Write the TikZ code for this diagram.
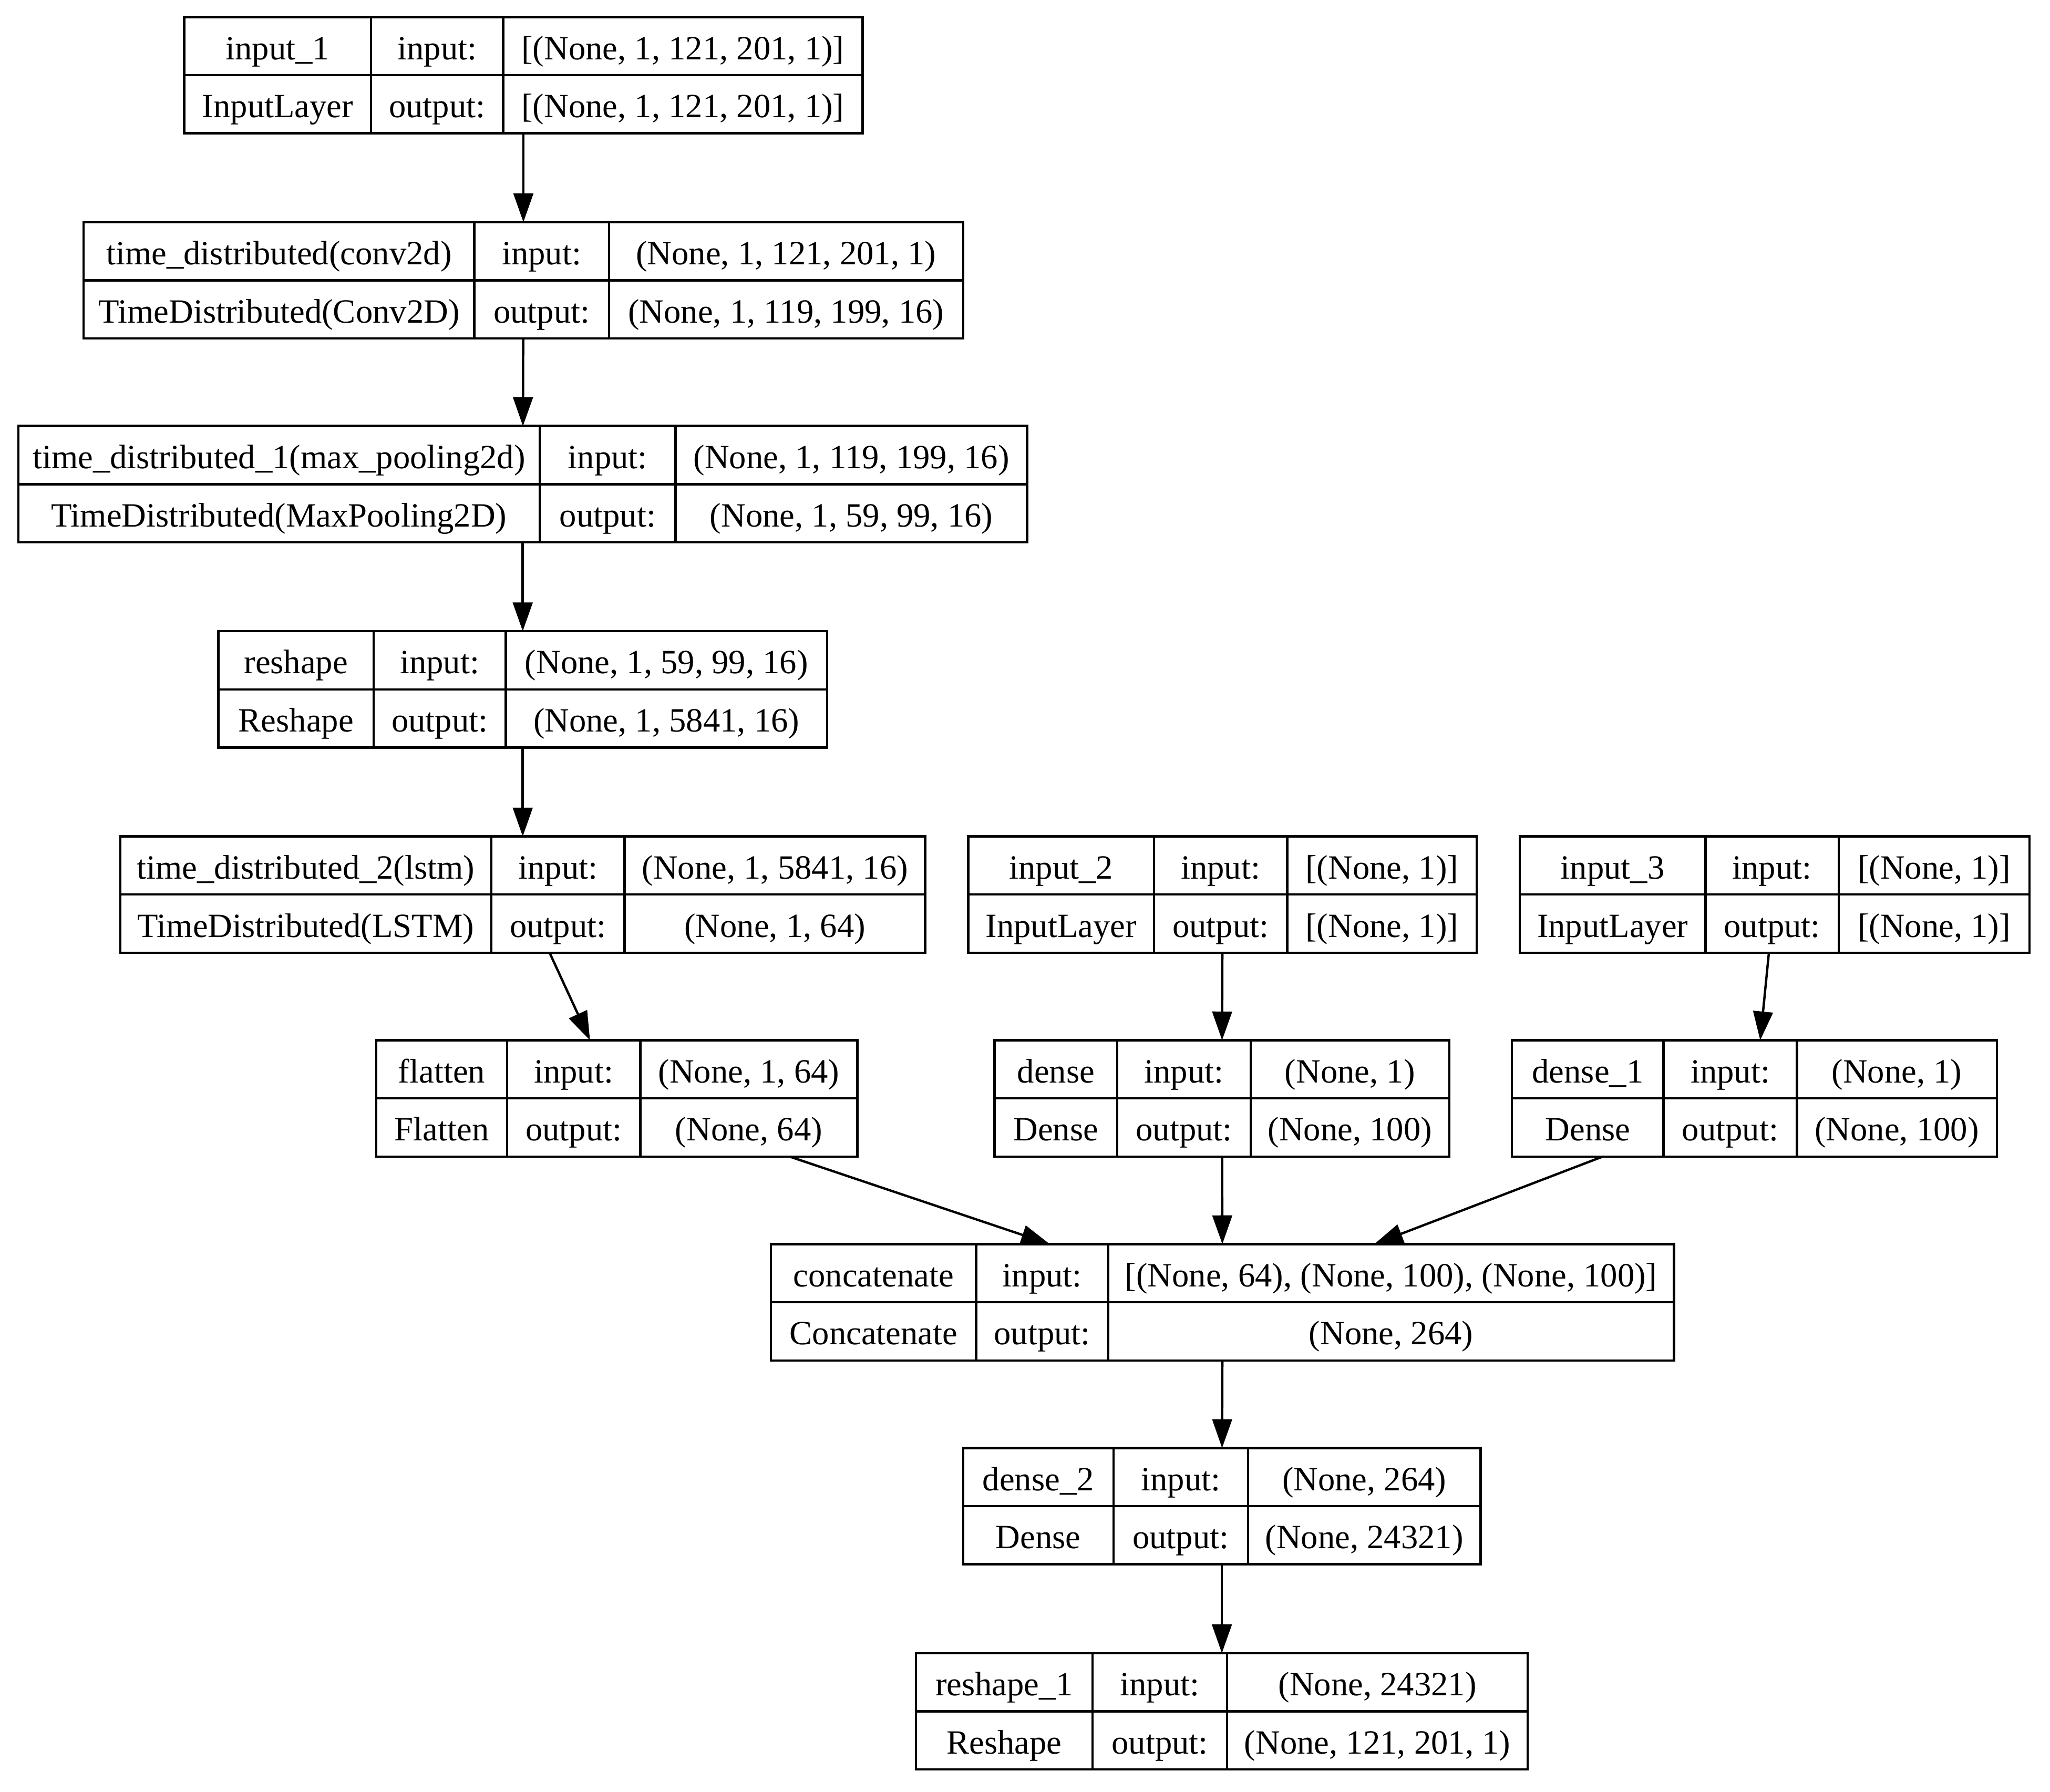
\documentclass[tikz,border=0pt]{standalone}
\usepackage{fontspec}
\setmainfont{Liberation Serif}
\usetikzlibrary{arrows.meta,calc}

\begin{document}
\begin{tikzpicture}[x=0.5pt, y=-0.5pt,
    layer/.style={draw, rectangle, line width=0.9pt, inner sep=0pt, outer sep=0pt},
    cell/.style={inner sep=0pt, anchor=base, font=\fontsize{13}{15}\selectfont},
    edge/.style={-{Triangle[length=11pt, width=7.5pt]}, line width=0.9pt}]
    \fill[white] (0,0) rectangle (1568.7,1371.2);
    % one record per layer: name/left/div1/div2/right/top/layer/class/input/output
    \foreach \nm/\xa/\xb/\xc/\xd/\yt/\lname/\lclass/\tin/\tout in {
        input1/141/284/385/660/13/input\_1/InputLayer/{[(None, 1, 121, 201, 1)]}/{[(None, 1, 121, 201, 1)]},
        conv/64/363/466/737/170/time\_distributed(conv2d)/TimeDistributed(Conv2D)/{(None, 1, 121, 201, 1)}/{(None, 1, 119, 199, 16)},
        pool/14/413/517/786/326/time\_distributed\_1(max\_pooling2d)/TimeDistributed(MaxPooling2D)/{(None, 1, 119, 199, 16)}/{(None, 1, 59, 99, 16)},
        reshape/167/286/387/633/483/reshape/Reshape/{(None, 1, 59, 99, 16)}/{(None, 1, 5841, 16)},
        lstm/92/376/478/708/640/time\_distributed\_2(lstm)/TimeDistributed(LSTM)/{(None, 1, 5841, 16)}/{(None, 1, 64)},
        input2/741/883/985/1130/640/input\_2/InputLayer/{[(None, 1)]}/{[(None, 1)]},
        input3/1163/1305/1407/1553/640/input\_3/InputLayer/{[(None, 1)]}/{[(None, 1)]},
        flatten/288/388/490/656/796/flatten/Flatten/{(None, 1, 64)}/{(None, 64)},
        dense/761/855/957/1109/796/dense/Dense/{(None, 1)}/{(None, 100)},
        dense1/1157/1273/1375/1528/796/dense\_1/Dense/{(None, 1)}/{(None, 100)},
        concat/590/747/848/1281/952/concatenate/Concatenate/{[(None, 64), (None, 100), (None, 100)]}/{(None, 264)},
        dense2/737/852/955/1133/1108/dense\_2/Dense/{(None, 264)}/{(None, 24321)},
        reshape1/701/836/939/1169/1265/reshape\_1/Reshape/{(None, 24321)}/{(None, 121, 201, 1)}
    }{
        \pgfmathsetmacro{\w}{(\xd-\xa)/2}
        \node[layer, minimum width=\w pt, minimum height=44.5pt] (\nm) at ({(\xa+\xd)/2},{\yt+44.5}) {};
        \draw[line width=0.9pt] (\xa,{\yt+44.5}) -- (\xd,{\yt+44.5})
            (\xb,\yt) -- (\xb,{\yt+89}) (\xc,\yt) -- (\xc,{\yt+89});
        \node[cell] (\nm-name) at ({(\xa+\xb)/2},{\yt+32.5}) {\lname};
        \node[cell] (\nm-class) at ({(\xa+\xb)/2},{\yt+77}) {\lclass};
        \node[cell] (\nm-inlbl) at ({(\xb+\xc)/2},{\yt+32.5}) {input:};
        \node[cell] (\nm-outlbl) at ({(\xb+\xc)/2},{\yt+77}) {output:};
        \node[cell] (\nm-in) at ({(\xc+\xd)/2},{\yt+32.5}) {\tin};
        \node[cell] (\nm-out) at ({(\xc+\xd)/2},{\yt+77}) {\tout};
    }
    % connections
    \draw[edge] (input1) -- (conv);
    \draw[edge] (conv) -- (pool);
    \draw[edge] (pool) -- (reshape);
    \draw[edge] (reshape) -- (lstm);
    \draw[edge] (lstm) -- (flatten);
    \draw[edge] (input2) -- (dense);
    \draw[edge] (input3) -- (dense1);
    \draw[edge] (flatten) -- (concat);
    \draw[edge] (dense) -- (concat);
    \draw[edge] (dense1) -- (concat);
    \draw[edge] (concat) -- (dense2);
    \draw[edge] (dense2) -- (reshape1);
\end{tikzpicture}
\end{document}
